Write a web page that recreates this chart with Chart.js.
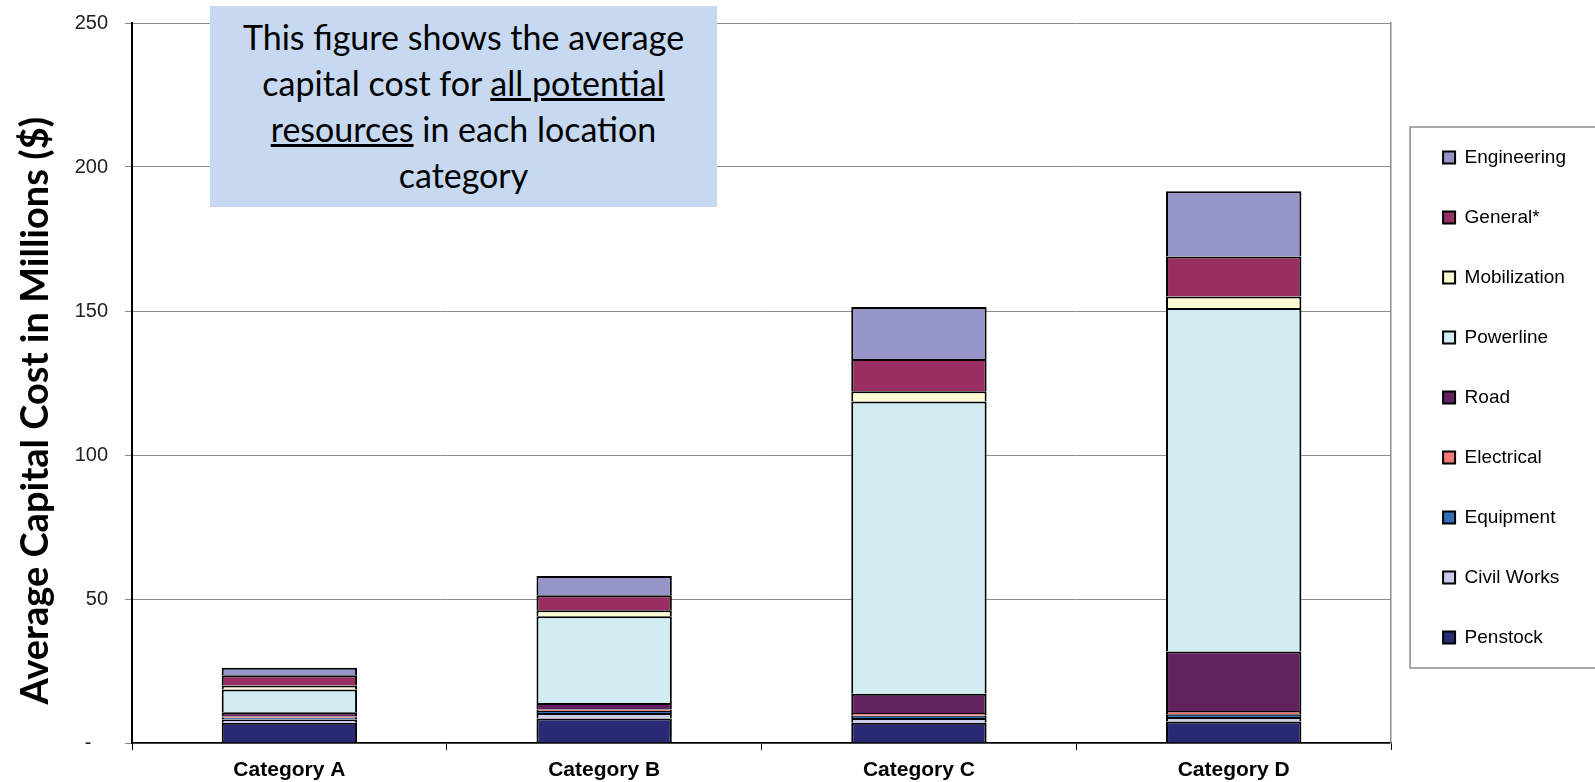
<!DOCTYPE html>
<html>
<head>
<meta charset="utf-8">
<script src="https://cdn.jsdelivr.net/npm/chart.js@4/dist/chart.umd.min.js"></script>
<style>
	body { margin: 0; background: #fff; }
	#wrap { position: relative; width: 1595px; height: 782px; overflow: hidden; }
	#note {
		position: absolute; left: 210px; top: 6px; width: 507px; height: 201px;
		background: #c6d9f0; color: #000; text-align: center;
		font-family: Lato, "Open Sans", sans-serif; font-size: 34px; line-height: 46px;
		padding-top: 8px; box-sizing: border-box;
	}
</style>
</head>
<body>
<div id="wrap">
	<canvas id="chart" width="1595" height="782"></canvas>
	<div id="note">This figure shows the average<br>capital cost for <u>all potential</u><br><u>resources</u> in each location<br>category</div>
</div>
<script>
const categories = ["Category A", "Category B", "Category C", "Category D"];
const yTicks = [0, 50, 100, 150, 200, 250];

// stacked from the bottom up
const penstock = [7.0, 8.5, 7.0, 7.5];
const civilWorks = [1.2, 1.9, 1.7, 1.5];
const equipment = [0.6, 0.7, 0.8, 1.0];
const electrical = [0.4, 0.5, 0.9, 1.1];
const road = [1.5, 2.3, 6.7, 20.7];
const powerline = [7.9, 30.1, 101.5, 119.2];
const mobilization = [1.4, 2.1, 3.5, 4.0];
const general = [3.5, 5.2, 11.2, 13.9];
const engineering = [2.6, 6.7, 18.1, 22.7];

const seriesNames = ["Penstock", "Civil Works", "Equipment", "Electrical", "Road", "Powerline", "Mobilization", "General*", "Engineering"];
const seriesValues = [penstock, civilWorks, equipment, electrical, road, powerline, mobilization, general, engineering];
const seriesColors = ["#2a2a74", "#cacaea", "#3070b8", "#f27c74", "#62215f", "#d1edf3", "#fbfad2", "#992e62", "#9595c8"];

// grey frame round the legend, open on the right like the original
const legendBox = {
	id: "legendBox",
	afterDraw(chart) {
		let lg = chart.legend;
		if (!lg || !lg.legendHitBoxes.length) return;
		let boxes = lg.legendHitBoxes;
		let top = boxes[0].top, bottom = boxes[0].top + boxes[0].height;
		boxes.forEach((b) => {
			top = Math.min(top, b.top);
			bottom = Math.max(bottom, b.top + b.height);
		});
		let ctx = chart.ctx;
		ctx.save();
		ctx.strokeStyle = "#8c8c8c";
		ctx.lineWidth = 1.5;
		ctx.strokeRect(lg.left + 8, top - 21, chart.width, bottom - top + 42);
		ctx.restore();
	}
};

let datasets = seriesNames.map((name, i) => {
	return {
		label: name,
		data: seriesValues[i],
		backgroundColor: seriesColors[i],
		borderColor: "#000",
		borderWidth: 2,
		barPercentage: 0.43,
		categoryPercentage: 1
	};
});

new Chart(document.getElementById("chart"), {
	type: "bar",
	data: { labels: categories, datasets: datasets },
	plugins: [legendBox],
	options: {
		responsive: false,
		animation: false,
		layout: { padding: { top: 13, left: 0, right: 19, bottom: 0 } },
		scales: {
			x: {
				stacked: true,
				afterFit: (s) => { s.height = 39; },
				grid: { drawOnChartArea: false, drawTicks: true, tickLength: 7, offset: true, color: "#000" },
				border: { color: "#000", width: 1.5 },
				ticks: { color: "#000", padding: 8, font: { family: "'Liberation Sans', Arial", size: 21, weight: "bold" } }
			},
			y: {
				stacked: true,
				min: 0,
				max: 250,
				afterFit: (s) => { s.width = 132; s.paddingTop = 23; },
				afterBuildTicks: (s) => { s.ticks = yTicks.map(v => ({ value: v })); },
				grid: { color: "#8c8c8c", lineWidth: 1, tickLength: 7 },
				border: { color: "#000", width: 2 },
				ticks: {
					color: "#222",
					padding: 17,
					font: { family: "'Liberation Sans', Arial", size: 20 },
					callback: (v) => v === 0 ? "-   " : v
				},
				title: {
					display: true,
					text: "Average Capital Cost in Millions ($)      ",
					color: "#000",
					padding: { top: 13, bottom: 0 },
					font: { family: "Lato, 'Open Sans'", size: 38, weight: "bold" }
				}
			},
			y2: {
				position: "right",
				min: 0,
				max: 250,
				afterFit: (s) => { s.width = 11; s.paddingTop = 23; },
				grid: { drawOnChartArea: false, drawTicks: false },
				border: { color: "#8c8c8c", width: 1.5 },
				ticks: { display: false }
			}
		},
		plugins: {
			tooltip: { enabled: false },
			legend: {
				position: "right",
				reverse: true,
				labels: {
					color: "#000",
					boxWidth: 12,
					boxHeight: 12,
					padding: 41,
					font: { family: "'Liberation Sans', Arial", size: 19 }
				}
			}
		}
	}
});
</script>
</body>
</html>
